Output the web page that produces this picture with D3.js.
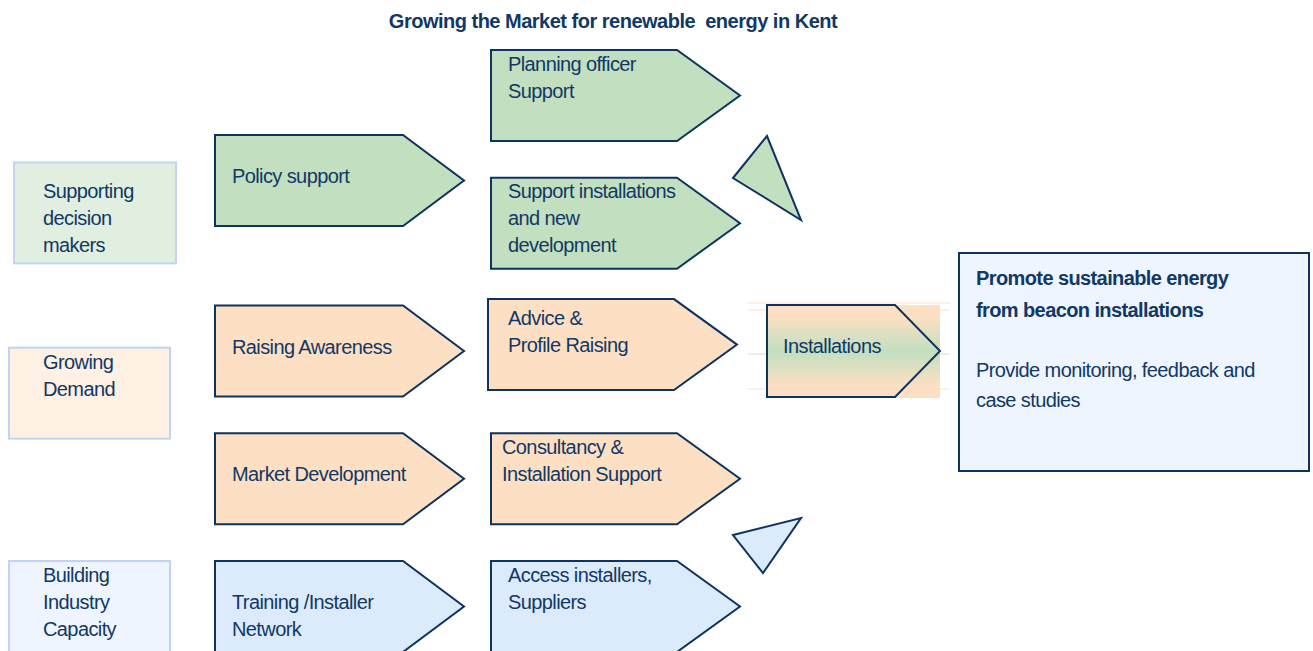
<!DOCTYPE html>
<html>
<head>
<meta charset="utf-8">
<script src="https://cdn.jsdelivr.net/npm/d3@7"></script>
<style>
  body { margin: 0; background: #fff; }
  svg text { font-family: "Liberation Sans", Arial, sans-serif; fill: #113866; }
</style>
</head>
<body>
<div id="chart"></div>
<script>
// diagram content
var title = "Growing the Market for renewable  energy in Kent";
var themes = [["Supporting", "decision", "makers"], ["Growing", "Demand"], ["Building", "Industry", "Capacity"]];
var themeGroup = ["green", "peach", "blue"];
var actions = [["Policy support"], ["Raising Awareness"], ["Market Development"], ["Training /Installer", "Network"]];
var actionGroup = ["green", "peach", "peach", "blue"];
var services = [["Planning officer", "Support"], ["Support installations", "and new", "development"], ["Advice &", "Profile Raising"], ["Consultancy &", "Installation Support"], ["Access installers,", "Suppliers"]];
var serviceGroup = ["green", "green", "peach", "peach", "blue"];
var outcome = "Installations";
var goalTitle = ["Promote sustainable energy", "from beacon installations"];
var goalText = ["Provide monitoring, feedback and", "case studies"];

// layout (row slots on a shared vertical scale)
var themeSlot = [0.88, 2.33, 4], themeH = [101, 91, 100];
var actionSlot = [0.665, 2, 3, 4];
var serviceSlot = [0, 1, 1.95, 3, 4];
var serviceX = [491, 491, 488, 491, 491];
var serviceTextX = [508, 508, 508, 502, 508];
var serviceTextOff = [14, 13, 19, 14, 14];

var fills = { green: "#c2dfc0", peach: "#fde0c3", blue: "#dcebfb" };
var lightFills = { green: "#e1efe0", peach: "#fef0e3", blue: "#eef5fe" };
var ink = "#0e3361";

var W = 1313, H = 651;
var svg = d3.select("#chart").append("svg").attr("width", W).attr("height", H);
var y = d3.scaleLinear().domain([0, 4]).range([50, 561]);

svg.append("text").attr("x", 613).attr("y", 28).attr("text-anchor", "middle")
  .attr("xml:space", "preserve").style("white-space", "pre")
  .style("font-size", "20px").style("font-weight", "bold").style("letter-spacing", "-0.5px")
  .text(title);

function arrowPts(x, top, w, h, n) {
  return [[x, top], [x + w - n, top], [x + w, top + h / 2], [x + w - n, top + h], [x, top + h]];
}
var line = d3.line();

function addLines(g, lines, x, y0, size, weight, lh) {
  lines.forEach(function (t, i) {
    g.append("text").attr("x", x).attr("y", y0 + i * lh).attr("dy", "0.35em")
      .style("font-size", size).style("font-weight", weight || "normal").style("letter-spacing", "-0.6px")
      .text(t);
  });
}

// left theme boxes
var themeX = [14, 9, 9], themeW = [162, 161, 161];
themes.forEach(function (d, i) {
  var g = svg.append("g");
  g.append("rect").attr("x", themeX[i]).attr("y", y(themeSlot[i])).attr("width", themeW[i]).attr("height", themeH[i])
    .attr("fill", lightFills[themeGroup[i]]).attr("stroke", "#c3d3f5").attr("stroke-width", 2);
  addLines(g, d, 43, y(themeSlot[i]) + (i == 0 ? 29 : 14), "20px", null, 27);
});

// action arrows
actions.forEach(function (d, i) {
  var g = svg.append("g");
  var top = y(actionSlot[i]);
  g.append("path").attr("d", line(arrowPts(215, top, 249, 91, 61)) + "Z")
    .attr("fill", fills[actionGroup[i]]).attr("stroke", ink).attr("stroke-width", 2);
  addLines(g, d, 232, top + 41, "20px", null, 27);
});

// service arrows
services.forEach(function (d, i) {
  var g = svg.append("g");
  var top = y(serviceSlot[i]);
  g.append("path").attr("d", line(arrowPts(serviceX[i], top, 249, 91, 63)) + "Z")
    .attr("fill", fills[serviceGroup[i]]).attr("stroke", ink).attr("stroke-width", 2);
  addLines(g, d, serviceTextX[i], top + serviceTextOff[i], "20px", null, 27);
});

// pointer triangles
svg.append("path").attr("d", line([[733, 178], [767, 136], [801, 220]]) + "Z")
  .attr("fill", fills.green).attr("stroke", ink).attr("stroke-width", 2);
svg.append("path").attr("d", line([[733, 535], [801, 518], [763, 573]]) + "Z")
  .attr("fill", fills.blue).attr("stroke", ink).attr("stroke-width", 2);

// installations arrow with gradient
var defs = svg.append("defs");
var grad = defs.append("linearGradient").attr("id", "instGrad").attr("x1", 0).attr("y1", 0).attr("x2", 0).attr("y2", 1);
grad.append("stop").attr("offset", "0%").attr("stop-color", fills.peach);
grad.append("stop").attr("offset", "12%").attr("stop-color", fills.peach);
grad.append("stop").attr("offset", "50%").attr("stop-color", fills.green);
grad.append("stop").attr("offset", "88%").attr("stop-color", fills.peach);
grad.append("stop").attr("offset", "100%").attr("stop-color", fills.peach);

[[303, "#fbe3cb"], [310, "#fbe3cb"], [354, "#c9e3c7"], [389, "#fbe3cb"]].forEach(function (l) {
  svg.append("line").attr("x1", 748).attr("x2", 950).attr("y1", l[0]).attr("y2", l[0])
    .attr("stroke", l[1]).attr("stroke-width", 1);
});
svg.append("rect").attr("x", 767).attr("y", 305).attr("width", 173).attr("height", 93).attr("fill", "url(#instGrad)");
svg.append("path").attr("d", line(arrowPts(767, 305, 173, 92, 45)) + "Z")
  .attr("fill", "url(#instGrad)").attr("stroke", ink).attr("stroke-width", 2);
addLines(svg.append("g"), [outcome], 783, 346, "20px", null, 27);

// goal box
var goal = svg.append("g");
goal.append("rect").attr("x", 959).attr("y", 253).attr("width", 350).attr("height", 218)
  .attr("fill", "#eef5fe").attr("stroke", ink).attr("stroke-width", 2);
addLines(goal, goalTitle, 976, 278, "20px", "bold", 32);
addLines(goal, goalText, 976, 370, "20px", null, 30);
</script>
</body>
</html>
